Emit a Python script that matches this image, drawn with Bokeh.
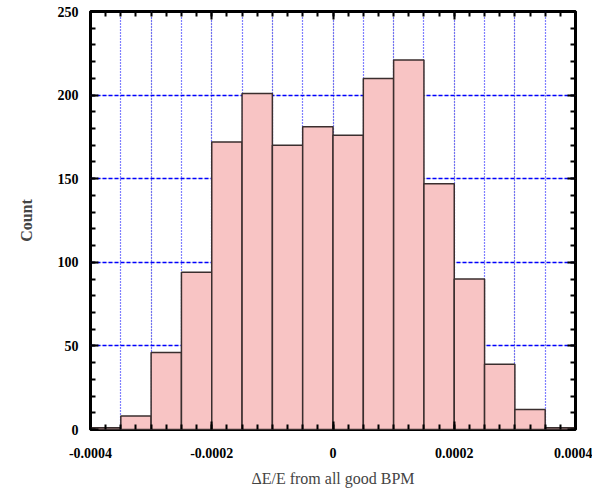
from bokeh.plotting import figure
from bokeh.models import (FixedTicker, LinearAxis, Range1d, ColumnDataSource, Grid,
                          CustomJSTickFormatter, CustomLabelingPolicy)
from bokeh.embed import file_html
from bokeh.resources import INLINE

bin_left = [-0.0004, -0.00035, -0.0003, -0.00025, -0.0002, -0.00015, -0.0001, -0.00005,
            0.0, 0.00005, 0.0001, 0.00015, 0.0002, 0.00025, 0.0003, 0.00035]
bin_right = [-0.00035, -0.0003, -0.00025, -0.0002, -0.00015, -0.0001, -0.00005, 0.0,
             0.00005, 0.0001, 0.00015, 0.0002, 0.00025, 0.0003, 0.00035, 0.0004]
counts = [1, 8, 46, 94, 172, 201, 170, 181, 176, 210, 221, 147, 90, 39, 12, 1]

x_labels = [-0.0004, -0.0002, 0.0, 0.0002, 0.0004]
x_grid = [-0.00035, -0.0003, -0.00025, -0.0002, -0.00015, -0.0001, -0.00005, 0.0,
          0.00005, 0.0001, 0.00015, 0.0002, 0.00025, 0.0003, 0.00035]
x_minor = [-0.0004 + i * 0.000025 for i in range(33)]
y_labels = [0, 50, 100, 150, 200, 250]
y_minor = list(range(0, 251, 10))

src = ColumnDataSource(dict(left=bin_left, right=bin_right, top=counts, bottom=[0] * len(counts)))

p = figure(width=592, height=491, output_backend="svg", toolbar_location=None,
           x_range=Range1d(-0.0004, 0.0004), y_range=Range1d(0, 250),
           x_axis_location=None, y_axis_location=None,
           min_border_left=90, min_border_right=17, min_border_top=11, min_border_bottom=62)
p.outline_line_color = "black"
p.outline_line_width = 3
p.background_fill_color = "white"
p.border_fill_color = "white"

xt = FixedTicker(ticks=x_labels, minor_ticks=x_minor)
yt = FixedTicker(ticks=y_labels, minor_ticks=y_minor)

hide_all = CustomLabelingPolicy(code="""
    for (const i of indices) { indices.unset(i) }
    return indices
""")

def style(ax, labels=True):
    ax.axis_line_color = None
    ax.major_tick_in = 8
    ax.major_tick_out = 0
    ax.minor_tick_in = 5
    ax.minor_tick_out = 0
    ax.major_tick_line_width = 2
    ax.minor_tick_line_width = 2
    ax.major_tick_line_color = "black"
    ax.minor_tick_line_color = "black"
    if labels:
        ax.major_label_text_font = "Liberation Serif"
        ax.major_label_text_font_style = "bold"
        ax.major_label_text_font_size = "14px"
        ax.major_label_text_color = "black"
    else:
        ax.major_label_policy = hide_all
        ax.major_label_text_font_size = "1px"
        ax.major_label_standoff = 0

xb = LinearAxis(ticker=xt)
style(xb)
xb.formatter = CustomJSTickFormatter(code="""
    if (Math.abs(tick) < 1e-12) { return "0"; }
    return tick.toFixed(4);
""")
xb.major_label_standoff = 18
xb.axis_label = "\u0394E/E from all good BPM"
xb.axis_label_text_font = "Liberation Serif"
xb.axis_label_text_font_style = "normal"
xb.axis_label_text_font_size = "16px"
xb.axis_label_standoff = 9
p.add_layout(xb, "below")

yl = LinearAxis(ticker=yt)
style(yl)
yl.major_label_standoff = 12
yl.axis_label = "Count"
yl.axis_label_text_font = "Liberation Serif"
yl.axis_label_text_font_style = "bold"
yl.axis_label_text_font_size = "16px"
yl.axis_label_standoff = 20
p.add_layout(yl, "left")

xa = LinearAxis(ticker=xt)
style(xa, labels=False)
p.add_layout(xa, "above")
yr = LinearAxis(ticker=yt)
style(yr, labels=False)
p.add_layout(yr, "right")

vg = Grid(dimension=0, ticker=FixedTicker(ticks=x_grid))
vg.grid_line_color = "#0000ff"
vg.grid_line_dash = "1 2"
vg.grid_line_width = 1.2
p.add_layout(vg)
hg = Grid(dimension=1, ticker=FixedTicker(ticks=[50, 100, 150, 200]))
hg.grid_line_color = "#0000ff"
hg.grid_line_dash = "4 2"
hg.grid_line_width = 1.3
p.add_layout(hg)

p.quad(left="left", right="right", top="top", bottom="bottom", source=src,
       fill_color="#f8c4c4", line_color="#3a2e2e", line_width=1.5)

open("out.html", "w").write(file_html(p, INLINE))
